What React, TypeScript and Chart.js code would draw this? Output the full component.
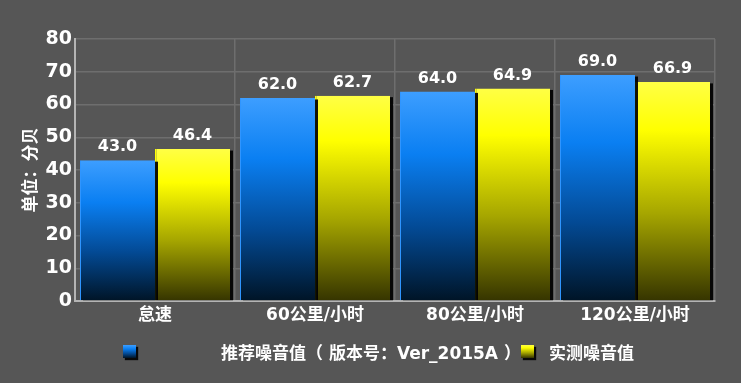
import React, { useEffect, useRef } from "react";
import { Chart, registerables } from "chart.js";

Chart.register(...registerables);

const categories = ["怠速", "60公里/小时", "80公里/小时", "120公里/小时"];
const recommended = [43.0, 62.0, 64.0, 69.0];
const measured = [46.4, 62.7, 64.9, 66.9];
const seriesNames = ["推荐噪音值（ 版本号：Ver_2015A ）", "实测噪音值"];
const yTitle = "单位：分贝";

const FONT = '"DejaVu Sans", "Noto Sans CJK SC", sans-serif';
const BG = "#565656";

const blueStops: [number, string][] = [
  [0, "#3d9eff"],
  [0.3, "#0a7ff2"],
  [0.65, "#034a95"],
  [1, "#001426"],
];
const yellowStops: [number, string][] = [
  [0, "#ffff45"],
  [0.22, "#ffff00"],
  [0.6, "#a6a600"],
  [1, "#353400"],
];

function gradFill(stops: [number, string][], solid: string) {
  return (c: any) => {
    const chart = c.chart;
    const { ctx, chartArea, scales } = chart;
    if (!chartArea || !scales.y || c.type !== "data" || !c.parsed) return solid;
    const top = scales.y.getPixelForValue(c.parsed.y);
    const base = scales.y.getPixelForValue(0);
    if (!isFinite(top) || !isFinite(base) || top === base) return solid;
    const g = ctx.createLinearGradient(0, top, 0, base);
    stops.forEach(([o, col]) => g.addColorStop(o, col));
    return g;
  };
}

// draws a dark drop shadow behind every bar, from the bar elements' own geometry
const shadowPlugin = {
  id: "barShadow",
  beforeDatasetDraw(chart: any, args: any) {
    const ctx = chart.ctx;
    const meta = chart.getDatasetMeta(args.index);
    ctx.save();
    ctx.fillStyle = "rgba(0,0,0,0.92)";
    ctx.filter = "blur(0.6px)";
    meta.data.forEach((el: any) => {
      const p = el.getProps(["x", "y", "base", "width"], true);
      const left = p.x - p.width / 2;
      ctx.fillRect(left + 3, p.y + 1.5, p.width, p.base - p.y - 1.5);
    });
    ctx.restore();
  },
};

const labelPlugin = {
  id: "valueLabels",
  afterDatasetsDraw(chart: any) {
    const ctx = chart.ctx;
    ctx.save();
    ctx.font = `bold 16px ${FONT}`;
    ctx.fillStyle = "#ffffff";
    ctx.textAlign = "center";
    ctx.textBaseline = "middle";
    chart.data.datasets.forEach((ds: any, i: number) => {
      const meta = chart.getDatasetMeta(i);
      meta.data.forEach((el: any, j: number) => {
        ctx.fillText(Number(ds.data[j]).toFixed(1), el.x, el.y - 13);
      });
    });
    ctx.restore();
  },
};

function LegendBox({ stops }: { stops: [number, string][] }) {
  const grad = `linear-gradient(to bottom, ${stops.map(([o, c]) => `${c} ${o * 100}%`).join(", ")})`;
  return (
    <div
      style={{
        width: 13,
        height: 13,
        background: grad,
        boxShadow: "2px 2px 1px rgba(0,0,0,0.9)",
      }}
    />
  );
}

export default function App() {
  const ref = useRef<HTMLCanvasElement | null>(null);

  useEffect(() => {
    document.body.style.margin = "0";
    const canvas = ref.current;
    if (!canvas) return;
    const chart = new Chart(canvas, {
      type: "bar",
      data: {
        labels: categories,
        datasets: [
          {
            label: seriesNames[0],
            data: recommended,
            backgroundColor: gradFill(blueStops, "#0a7ff2"),
            borderColor: "#2f95ff",
            borderWidth: { left: 1, top: 0, right: 0, bottom: 0 },
            borderSkipped: false,
            categoryPercentage: 0.9375,
            barPercentage: 1.0,
          },
          {
            label: seriesNames[1],
            data: measured,
            backgroundColor: gradFill(yellowStops, "#ffff00"),
            borderColor: "#ffff00",
            borderWidth: { left: 1.5, top: 0, right: 0, bottom: 0 },
            borderSkipped: false,
            categoryPercentage: 0.9375,
            barPercentage: 1.0,
          },
        ],
      },
      options: {
        responsive: false,
        animation: false,
        layout: { padding: { left: 0, right: 26, top: 39, bottom: 0 } },
        plugins: {
          legend: { display: false },
          tooltip: { enabled: false },
        },
        scales: {
          x: {
            grid: { color: "#6e6e6e", lineWidth: 1.5, drawTicks: false, offset: true },
            border: { color: "#b4b4b4", width: 2 },
            ticks: {
              color: "#ffffff",
              font: { family: FONT, size: 17, weight: "bold" },
              padding: 4,
            },
            afterFit(scale: any) {
              scale.height = 82;
            },
          },
          y: {
            min: 0,
            max: 80,
            grid: { color: "#6e6e6e", lineWidth: 1.5, drawTicks: false },
            border: { color: "#b4b4b4", width: 2 },
            ticks: {
              stepSize: 10,
              color: "#ffffff",
              font: { family: FONT, size: 19, weight: "bold" },
              padding: 3,
            },
            title: {
              display: true,
              text: yTitle,
              color: "#ffffff",
              font: { family: FONT, size: 17, weight: "bold" },
              padding: { top: 21, bottom: 0 },
            },
            afterFit(scale: any) {
              scale.width = 75;
            },
          },
        },
      },
      plugins: [shadowPlugin, labelPlugin],
    } as any);
    return () => chart.destroy();
  }, []);

  const legendText: React.CSSProperties = {
    position: "absolute",
    top: 343,
    color: "#ffffff",
    fontFamily: FONT,
    fontWeight: "bold",
    fontSize: 17,
    lineHeight: "20px",
    whiteSpace: "nowrap",
  };

  return (
    <div style={{ position: "relative", width: 741, height: 383, background: BG, overflow: "hidden" }}>
      <canvas ref={ref} width={741} height={383} style={{ display: "block" }} />
      <div style={{ position: "absolute", left: 123, top: 345 }}>
        <LegendBox stops={blueStops} />
      </div>
      <div style={{ ...legendText, left: 221 }}>{seriesNames[0]}</div>
      <div style={{ position: "absolute", left: 521, top: 345 }}>
        <LegendBox stops={yellowStops} />
      </div>
      <div style={{ ...legendText, left: 549 }}>{seriesNames[1]}</div>
    </div>
  );
}
